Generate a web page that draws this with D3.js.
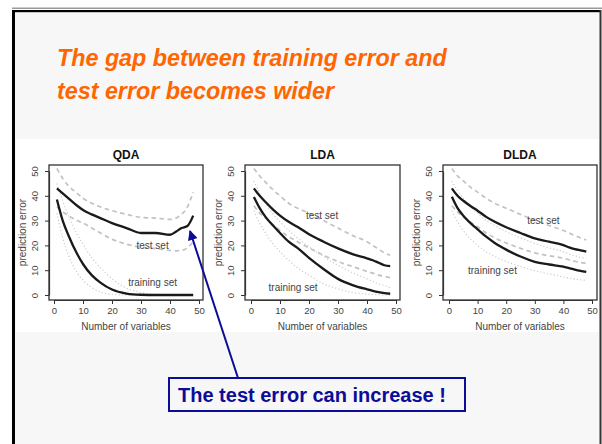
<!DOCTYPE html>
<html><head><meta charset="utf-8">
<script src="https://cdn.jsdelivr.net/npm/d3@7"></script>
<style>body{margin:0;background:#fff}svg{display:block}</style></head>
<body>
<svg id="c" width="602" height="444"></svg>
<script>
// ---------------- DATA ----------------
const slideTitle = ["The gap between training error and", "test error becomes wider"];
const calloutText = "The test error can increase !";
const panelNames = ["QDA", "LDA", "DLDA"];
const xTicks = [0, 10, 20, 30, 40, 50];
const yTicks = [0, 10, 20, 30, 40, 50];
const xLabel = "Number of variables";
const yLabel = "prediction error";
const nVars = [1, 3, 5, 8, 10, 13, 16, 20, 25, 30, 35, 40, 42, 44, 46, 48];

// QDA
const qdaTest      = [43, 41, 39, 36, 34.3, 32.5, 31, 29, 27, 25, 25, 24.3, 25.5, 27, 27.8, 32];
const qdaTrain     = [38.5, 30, 24, 16.5, 12.5, 8, 5, 2.2, 0.6, 0.1, 0, 0, 0, 0, 0, 0];
const qdaTestHi    = [51, 47, 44, 41, 39, 37, 35.5, 34, 32.5, 31.3, 31, 30.5, 31, 32.5, 35.5, 41.5];
const qdaTestLo    = [35.5, 33.5, 32, 30, 29, 27, 25, 22.5, 20.5, 19.3, 18.7, 18, 17.8, 18, 19, 21.5];
const qdaTrainHi   = [45, 38, 32, 24.5, 20.5, 15, 11, 6.5, 2.8, 1, 0.3, 0.1, 0, 0, 0, 0];
const qdaTrainLo   = [33, 23, 16, 9, 6, 3, 1.2, 0.3, 0, 0, 0, 0, 0, 0, 0, 0];
// LDA
const ldaTest      = [43, 40, 37.5, 34, 32, 29.5, 27.5, 24.5, 21.5, 18.8, 16.5, 14.8, 14, 13, 12, 11.6];
const ldaTrain     = [39.5, 35, 31.5, 27.5, 25, 21.5, 19, 15, 10.5, 6.5, 4, 2.3, 1.7, 1.2, 0.8, 0.5];
const ldaTestHi    = [51, 48, 45.5, 42, 40, 37, 35, 33, 30, 27, 24, 21.5, 20, 18.5, 17, 16];
const ldaTestLo    = [36, 33, 31, 28, 26, 23.5, 21.5, 19, 16, 13.5, 11.5, 9.5, 8.8, 8, 7.5, 7];
const ldaTrainHi   = [46, 41, 37, 32, 29.5, 26, 23, 19.5, 15.5, 12, 9, 6.5, 5.5, 4.5, 3.8, 3];
const ldaTrainLo   = [34, 29, 25, 20, 17.5, 14, 11, 8, 4.5, 2.5, 1, 0.4, 0.2, 0.1, 0, 0];
// DLDA
const dldaTest     = [43, 40, 38, 35.5, 34, 31.5, 29.5, 27.3, 25, 22.8, 21.5, 20.1, 19.2, 18.5, 18, 17.5];
const dldaTrain    = [39.6, 35, 32, 28.5, 26.5, 23.5, 21, 18.3, 15.5, 13.4, 12.3, 11.4, 10.8, 10.2, 9.7, 9.3];
const dldaTestHi   = [51, 48, 46, 43, 41.5, 39, 37, 35, 32.5, 30.2, 28, 26, 25, 24, 23, 22.2];
const dldaTestLo   = [36, 33.5, 31.5, 29, 27.5, 25, 23, 21, 18.8, 17, 15.8, 14.8, 14.2, 13.6, 13.1, 12.8];
const dldaTrainHi  = [46, 42, 39, 35, 33, 30, 28, 25.5, 23, 20.8, 19, 17.5, 16.5, 15.8, 15.2, 14.8];
const dldaTrainLo  = [34, 29.5, 26, 22, 20, 17.5, 15.5, 13.5, 11.5, 9.8, 8.5, 7.3, 6.8, 6.4, 6.1, 5.9];

const panelSeries = [
  {test: qdaTest, train: qdaTrain, testHi: qdaTestHi, testLo: qdaTestLo, trainHi: qdaTrainHi, trainLo: qdaTrainLo},
  {test: ldaTest, train: ldaTrain, testHi: ldaTestHi, testLo: ldaTestLo, trainHi: ldaTrainHi, trainLo: ldaTrainLo},
  {test: dldaTest, train: dldaTrain, testHi: dldaTestHi, testLo: dldaTestLo, trainHi: dldaTrainHi, trainLo: dldaTrainLo}
];
const setLabels = ["test set", "training set"];
// label anchor positions in data units [x, y]
const testLabelPos = [[34, 18.5], [24.5, 30.6], [33, 28.6]];
const trainLabelPos = [[34, 3.6], [14.5, 1.6], [15.2, 8.5]];

// ---------------- LAYOUT ----------------
const layout = [
  {box: [49, 203], x: [54, 199]},
  {box: [245, 400], x: [251, 396]},
  {box: [443, 597], x: [449, 592]}
];
const boxTop = 165, boxBottom = 300;
const yRange = [295, 171];

const svg = d3.select("#c");
const W = 602, H = 444;
svg.append("rect").attr("width", W).attr("height", H).attr("fill", "#fff");
svg.append("rect").attr("x", 13).attr("y", 11).attr("width", 588).attr("height", 433).attr("fill", "#f7f7f7");
svg.append("rect").attr("x", 12).attr("y", 7.5).attr("width", 590).attr("height", 1.5).attr("fill", "#9a9a9a");
svg.append("rect").attr("x", 12).attr("y", 10).attr("width", 589).attr("height", 2.2).attr("fill", "#000");
svg.append("rect").attr("x", 12).attr("y", 10).attr("width", 3).attr("height", 434).attr("fill", "#000");
svg.append("rect").attr("x", 599.5).attr("y", 10).attr("width", 2).attr("height", 434).attr("fill", "#333");

const font = "Liberation Sans, Arial, Helvetica, sans-serif";

// slide title
const titleG = svg.append("g");
slideTitle.forEach((t, i) => {
  titleG.append("text").attr("x", 57).attr("y", 66 + i * 33)
    .attr("font-family", font)
    .attr("font-size", 23.3).attr("font-weight", "bold").attr("font-style", "italic")
    .attr("fill", "#ff6600").text(t);
});

// white chart image area
svg.append("rect").attr("x", 16).attr("y", 139).attr("width", 583).attr("height", 193).attr("fill", "#fff");

const y = d3.scaleLinear().domain([0, 50]).range(yRange);

panelNames.forEach((name, i) => {
  const L = layout[i];
  const S = panelSeries[i];
  const x = d3.scaleLinear().domain([0, 50]).range(L.x);
  const g = svg.append("g");
  const line = d3.line().x((d, j) => x(nVars[j])).y(d => y(d)).curve(d3.curveMonotoneX);

  const styles = [
    {key: "trainHi", stroke: "#c8c8c8", w: 1.1, dash: "1.2,2.2"},
    {key: "trainLo", stroke: "#c8c8c8", w: 1.1, dash: "1.2,2.2"},
    {key: "testHi", stroke: "#c2c2c2", w: 1.7, dash: "4.5,3.5"},
    {key: "testLo", stroke: "#c2c2c2", w: 1.7, dash: "4.5,3.5"},
    {key: "train", stroke: "#1a1a1a", w: 2.3, dash: null},
    {key: "test", stroke: "#1a1a1a", w: 2.3, dash: null}
  ];
  styles.forEach(s => {
    g.append("path").datum(S[s.key]).attr("d", line)
      .attr("fill", "none").attr("stroke", s.stroke).attr("stroke-width", s.w)
      .attr("stroke-dasharray", s.dash);
  });

  // labels
  g.append("text").attr("x", x(testLabelPos[i][0])).attr("y", y(testLabelPos[i][1]))
    .attr("text-anchor", "middle").attr("font-family", font).attr("font-size", 10)
    .attr("fill", "#444").text(setLabels[0]);
  g.append("text").attr("x", x(trainLabelPos[i][0])).attr("y", y(trainLabelPos[i][1]))
    .attr("text-anchor", "middle").attr("font-family", font).attr("font-size", 10)
    .attr("fill", "#444").text(setLabels[1]);

  // box
  g.append("rect").attr("x", L.box[0]).attr("y", boxTop)
    .attr("width", L.box[1] - L.box[0]).attr("height", boxBottom - boxTop)
    .attr("fill", "none").attr("stroke", "#333").attr("stroke-width", 1.3);

  // x axis
  const xa = g.append("g").attr("transform", `translate(0,${boxBottom})`)
    .call(d3.axisBottom(x).tickValues(xTicks).tickSize(4).tickSizeOuter(0).tickPadding(3));
  xa.select(".domain").attr("stroke", "#333").attr("stroke-width", 1.2);
  xa.selectAll(".tick line").attr("stroke", "#333");
  xa.selectAll("text").attr("font-family", font).attr("font-size", 9.5).attr("fill", "#444");

  // y axis
  const ya = g.append("g").attr("transform", `translate(${L.box[0]},0)`)
    .call(d3.axisLeft(y).tickValues(yTicks).tickSize(4).tickSizeOuter(0).tickPadding(0));
  ya.select(".domain").attr("stroke", "#333").attr("stroke-width", 1.2);
  ya.selectAll(".tick line").attr("stroke", "#333");
  ya.selectAll("text").attr("font-family", font).attr("font-size", 9.5).attr("fill", "#444")
    .attr("dy", "0.32em").attr("text-anchor", "middle")
    .attr("transform", "rotate(-90,-14,0)")
    .attr("x", -14).attr("y", 0);

  // titles
  const cx = (L.box[0] + L.box[1]) / 2;
  g.append("text").attr("x", cx).attr("y", 159).attr("text-anchor", "middle")
    .attr("font-family", font).attr("font-size", 12).attr("font-weight", "bold")
    .attr("fill", "#111").text(name);
  g.append("text").attr("x", cx).attr("y", 329.5).attr("text-anchor", "middle")
    .attr("font-family", font).attr("font-size", 10).attr("fill", "#444").text(xLabel);
  const ly = (boxTop + boxBottom) / 2;
  g.append("text").attr("transform", `translate(${L.box[0] - 23},${ly}) rotate(-90)`)
    .attr("text-anchor", "middle").attr("font-family", font).attr("font-size", 10)
    .attr("fill", "#444").text(yLabel);
});

// callout arrow
const blue = "#0c0c98";
const defs = svg.append("defs");
defs.append("marker").attr("id", "ah").attr("viewBox", "0 0 10 10").attr("refX", 9).attr("refY", 5)
  .attr("markerWidth", 12).attr("markerHeight", 10).attr("orient", "auto")
  .attr("markerUnits", "userSpaceOnUse")
  .append("path").attr("d", "M0,0 L10,5 L0,10 z").attr("fill", blue);
svg.append("line").attr("x1", 238).attr("y1", 378).attr("x2", 190).attr("y2", 231)
  .attr("stroke", blue).attr("stroke-width", 2).attr("marker-end", "url(#ah)");

// callout box
svg.append("rect").attr("x", 169).attr("y", 378).attr("width", 296).attr("height", 33)
  .attr("fill", "#f7f7f7").attr("stroke", blue).attr("stroke-width", 2);
svg.append("text").attr("x", 178).attr("y", 402).attr("font-family", font)
  .attr("font-size", 20).attr("font-weight", "bold").attr("fill", blue).text(calloutText);
</script>
</body></html>
